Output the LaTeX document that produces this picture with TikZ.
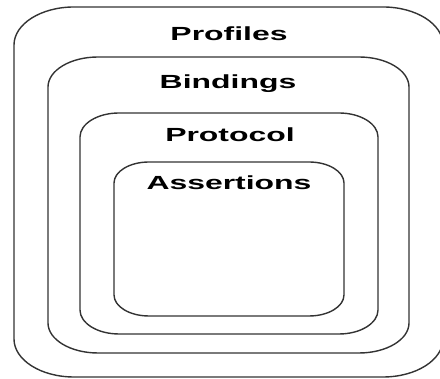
\documentclass[tikz,border=0pt]{standalone}
\usepackage{fontspec}
\setmainfont{Liberation Sans}
\usepackage{tikz}
\usetikzlibrary{positioning}
\definecolor{edge}{HTML}{333333}

\tikzset{
  layerline/.style={draw=edge, line width=1.4pt},
  layertitle/.style={anchor=base, inner sep=0pt, font=\fontsize{19}{19}\selectfont\bfseries,
    xscale=1.68, transform shape}
}

% layer box with elliptic corners: left, right, top, bottom, x radius, y radius
\newcommand{\layerbox}[6]{%
  \draw[layerline] (#1,#3-#6) -- (#1,#4+#6)
    arc[start angle=180, end angle=270, x radius=#5, y radius=#6] -- (#2-#5,#4)
    arc[start angle=270, end angle=360, x radius=#5, y radius=#6] -- (#2,#3-#6)
    arc[start angle=0, end angle=90, x radius=#5, y radius=#6] -- (#1+#5,#3)
    arc[start angle=90, end angle=180, x radius=#5, y radius=#6] -- cycle;}

\begin{document}
\begin{tikzpicture}[x=1pt, y=1pt]
\useasboundingbox (0,0) rectangle (440,379);
% nested layers, outermost first
\layerbox{14}{443}{372}{2}{60}{38}
\layerbox{48}{409}{322}{26}{50}{30}
\layerbox{80}{378}{266}{45}{39}{24}
\layerbox{114}{344}{217}{63}{35}{21}
% layer titles
\node[layertitle] (profiles)   at (229,338) {Profiles};
\node[layertitle] (bindings)   at (228,290) {Bindings};
\node[layertitle] (protocol)   at (230,237) {Protocol};
\node[layertitle] (assertions) at (229,189) {Assertions};
\end{tikzpicture}
\end{document}
